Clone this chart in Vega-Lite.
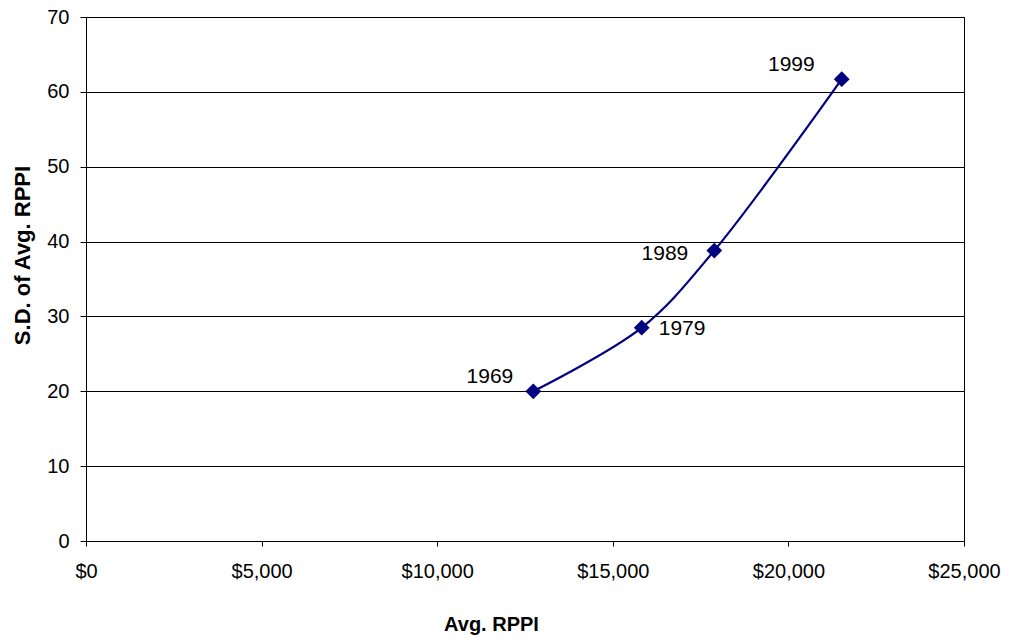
{
  "$schema": "https://vega.github.io/schema/vega-lite/v6.json",
  "width": 878,
  "height": 524,
  "autosize": {"type": "none"},
  "padding": {"left": 86, "top": 17, "right": 48, "bottom": 103},
  "background": "white",
  "config": {
    "view": {"stroke": "#000000", "strokeWidth": 1},
    "font": "Liberation Sans",
    "axis": {
      "labelFont": "Liberation Sans",
      "titleFont": "Liberation Sans",
      "labelColor": "#000000",
      "titleColor": "#000000",
      "labelFontSize": 20,
      "titleFontSize": 20,
      "titleFontWeight": "bold",
      "domainColor": "#000000",
      "tickColor": "#000000",
      "gridColor": "#000000",
      "gridWidth": 1,
      "gridOpacity": 1
    }
  },
  "data": {
    "values": [
      {"year": "1969", "rppi": 12736, "sd": 20.0},
      {"year": "1979", "rppi": 15823, "sd": 28.5},
      {"year": "1989", "rppi": 17890, "sd": 38.8},
      {"year": "1999", "rppi": 21518, "sd": 61.7}
    ]
  },
  "encoding": {
    "x": {
      "field": "rppi",
      "type": "quantitative",
      "scale": {"domain": [0, 25000], "nice": false, "zero": true},
      "axis": {
        "title": "Avg. RPPI",
        "values": [0, 5000, 10000, 15000, 20000, 25000],
        "format": "$,.0f",
        "grid": false,
        "tickSize": 5,
        "labelPadding": 15,
        "labelFlush": false,
        "titleX": 405,
        "titleY": 83,
        "titleBaseline": "middle",
        "titleAlign": "center"
      }
    },
    "y": {
      "field": "sd",
      "type": "quantitative",
      "scale": {"domain": [0, 70], "nice": false},
      "axis": {
        "title": "S.D. of Avg. RPPI",
        "titleFontSize": 22,
        "values": [0, 10, 20, 30, 40, 50, 60, 70],
        "grid": true,
        "tickSize": 6,
        "labelPadding": 11,
        "titleX": -64,
        "titleY": 238,
        "titleAngle": -90,
        "titleBaseline": "middle",
        "titleAlign": "center"
      }
    }
  },
  "layer": [
    {
      "mark": {"type": "line", "color": "#000080", "strokeWidth": 2.2, "interpolate": "catmull-rom"}
    },
    {
      "mark": {"type": "point", "shape": "diamond", "filled": true, "color": "#000080", "opacity": 1, "size": 250}
    },
    {
      "transform": [{"filter": "datum.year == '1969'"}],
      "mark": {"type": "text", "align": "right", "baseline": "middle", "dx": -20, "dy": -14, "fontSize": 21, "color": "#000000"},
      "encoding": {"text": {"field": "year"}}
    },
    {
      "transform": [{"filter": "datum.year == '1979'"}],
      "mark": {"type": "text", "align": "left", "baseline": "middle", "dx": 17, "dy": 1, "fontSize": 21, "color": "#000000"},
      "encoding": {"text": {"field": "year"}}
    },
    {
      "transform": [{"filter": "datum.year == '1989'"}],
      "mark": {"type": "text", "align": "right", "baseline": "middle", "dx": -26, "dy": 3, "fontSize": 21, "color": "#000000"},
      "encoding": {"text": {"field": "year"}}
    },
    {
      "transform": [{"filter": "datum.year == '1999'"}],
      "mark": {"type": "text", "align": "right", "baseline": "middle", "dx": -27, "dy": -14, "fontSize": 21, "color": "#000000"},
      "encoding": {"text": {"field": "year"}}
    }
  ]
}
